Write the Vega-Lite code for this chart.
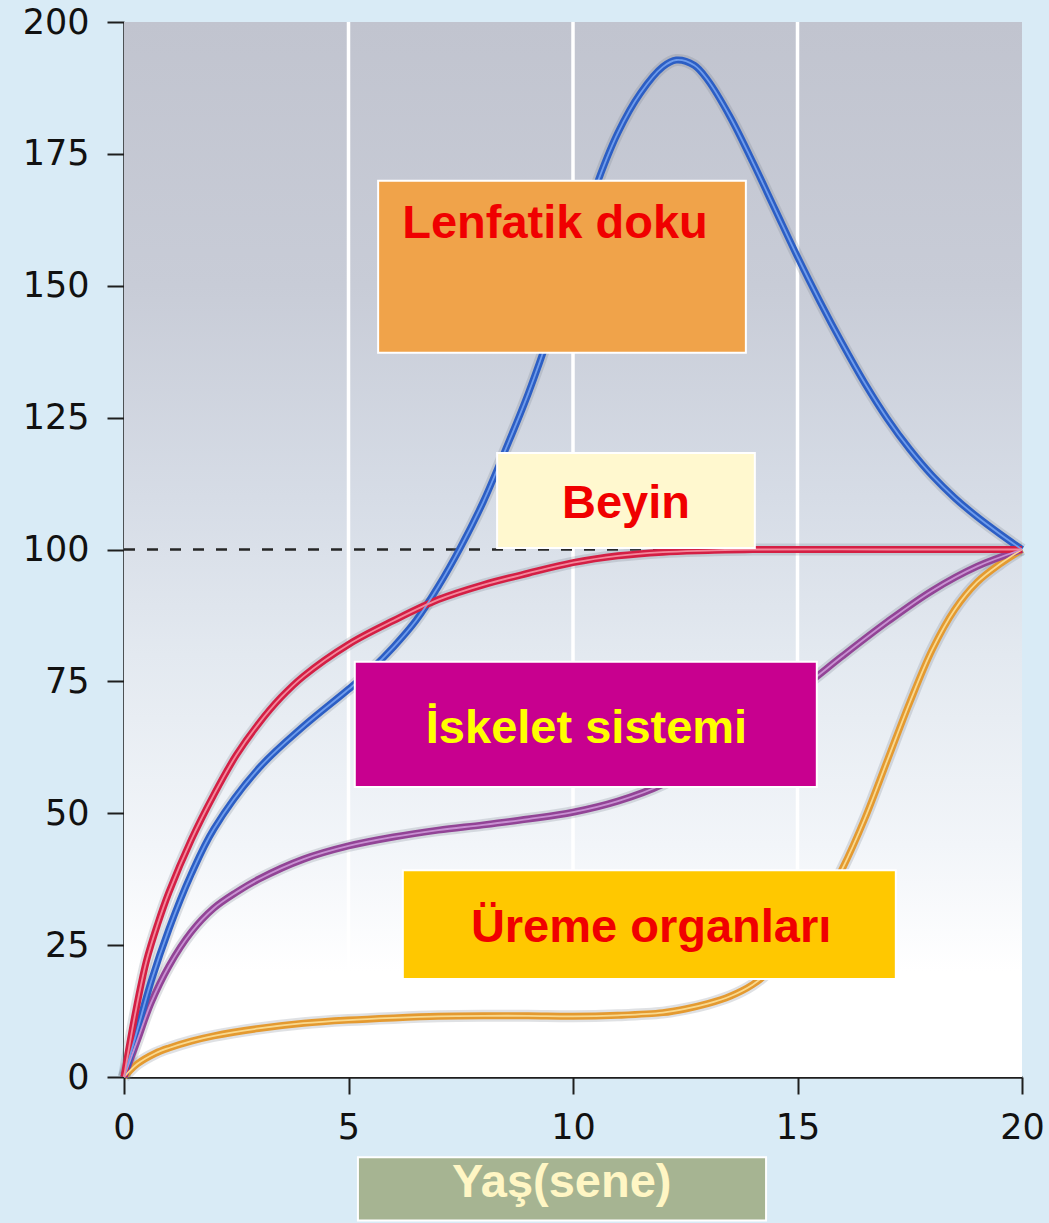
{
  "$schema": "https://vega.github.io/schema/vega-lite/v6.json",
  "width": 898,
  "height": 1055,
  "autosize": {"type": "none"},
  "padding": {"left": 124, "top": 22, "right": 27, "bottom": 146},
  "background": "#d9ebf6",
  "config": {
    "view": {"stroke": null},
    "font": "Liberation Sans",
    "axis": {
      "grid": false,
      "title": null,
      "domainColor": "#1e1e1e",
      "domainWidth": 2.5,
      "tickColor": "#1e1e1e",
      "tickWidth": 2,
      "tickSize": 17,
      "labelFont": "DejaVu Sans",
      "labelFontSize": 35,
      "labelColor": "#111111",
      "labelFlush": false,
      "labelOverlap": false
    },
    "axisX": {"labelPadding": 16},
    "axisY": {"labelPadding": 18}
  },
  "datasets": {
    "curves": [
      {"series": "Üreme organları", "age": 0, "value": 0},
      {"series": "Üreme organları", "age": 0.3, "value": 2.5},
      {"series": "Üreme organları", "age": 0.7, "value": 4.5},
      {"series": "Üreme organları", "age": 1, "value": 5.5},
      {"series": "Üreme organları", "age": 1.5, "value": 6.8},
      {"series": "Üreme organları", "age": 2, "value": 7.8},
      {"series": "Üreme organları", "age": 3, "value": 9.2},
      {"series": "Üreme organları", "age": 4, "value": 10.2},
      {"series": "Üreme organları", "age": 5, "value": 10.8},
      {"series": "Üreme organları", "age": 6, "value": 11.2},
      {"series": "Üreme organları", "age": 7, "value": 11.5},
      {"series": "Üreme organları", "age": 8, "value": 11.6},
      {"series": "Üreme organları", "age": 9, "value": 11.6},
      {"series": "Üreme organları", "age": 10, "value": 11.5},
      {"series": "Üreme organları", "age": 11, "value": 11.7},
      {"series": "Üreme organları", "age": 12, "value": 12.2},
      {"series": "Üreme organları", "age": 12.5, "value": 12.9},
      {"series": "Üreme organları", "age": 13, "value": 13.9},
      {"series": "Üreme organları", "age": 13.5, "value": 15.3},
      {"series": "Üreme organları", "age": 14, "value": 17.5},
      {"series": "Üreme organları", "age": 14.5, "value": 21},
      {"series": "Üreme organları", "age": 15, "value": 25.8},
      {"series": "Üreme organları", "age": 15.5, "value": 31.8},
      {"series": "Üreme organları", "age": 16, "value": 39.5},
      {"series": "Üreme organları", "age": 16.5, "value": 49},
      {"series": "Üreme organları", "age": 17, "value": 60},
      {"series": "Üreme organları", "age": 17.5, "value": 71},
      {"series": "Üreme organları", "age": 18, "value": 81},
      {"series": "Üreme organları", "age": 18.5, "value": 88.6},
      {"series": "Üreme organları", "age": 19, "value": 93.8},
      {"series": "Üreme organları", "age": 19.5, "value": 97.2},
      {"series": "Üreme organları", "age": 20, "value": 100},
      {"series": "İskelet sistemi", "age": 0, "value": 0},
      {"series": "İskelet sistemi", "age": 0.3, "value": 7},
      {"series": "İskelet sistemi", "age": 0.6, "value": 14},
      {"series": "İskelet sistemi", "age": 1, "value": 21},
      {"series": "İskelet sistemi", "age": 1.5, "value": 27.5},
      {"series": "İskelet sistemi", "age": 2, "value": 32},
      {"series": "İskelet sistemi", "age": 2.5, "value": 35},
      {"series": "İskelet sistemi", "age": 3, "value": 37.5},
      {"series": "İskelet sistemi", "age": 4, "value": 41.3},
      {"series": "İskelet sistemi", "age": 5, "value": 43.8},
      {"series": "İskelet sistemi", "age": 6, "value": 45.5},
      {"series": "İskelet sistemi", "age": 7, "value": 46.8},
      {"series": "İskelet sistemi", "age": 8, "value": 47.8},
      {"series": "İskelet sistemi", "age": 9, "value": 48.9},
      {"series": "İskelet sistemi", "age": 10, "value": 50.2},
      {"series": "İskelet sistemi", "age": 11, "value": 52.3},
      {"series": "İskelet sistemi", "age": 12, "value": 55.5},
      {"series": "İskelet sistemi", "age": 13, "value": 60.5},
      {"series": "İskelet sistemi", "age": 14, "value": 66.5},
      {"series": "İskelet sistemi", "age": 15, "value": 73},
      {"series": "İskelet sistemi", "age": 15.5, "value": 76.4},
      {"series": "İskelet sistemi", "age": 16, "value": 79.8},
      {"series": "İskelet sistemi", "age": 17, "value": 86.3},
      {"series": "İskelet sistemi", "age": 18, "value": 92.2},
      {"series": "İskelet sistemi", "age": 19, "value": 96.8},
      {"series": "İskelet sistemi", "age": 20, "value": 100},
      {"series": "Lenfatik doku", "age": 0, "value": 0},
      {"series": "Lenfatik doku", "age": 0.3, "value": 9},
      {"series": "Lenfatik doku", "age": 0.6, "value": 18},
      {"series": "Lenfatik doku", "age": 1, "value": 28},
      {"series": "Lenfatik doku", "age": 1.5, "value": 38.5},
      {"series": "Lenfatik doku", "age": 2, "value": 47},
      {"series": "Lenfatik doku", "age": 3, "value": 58.5},
      {"series": "Lenfatik doku", "age": 4, "value": 66.5},
      {"series": "Lenfatik doku", "age": 5, "value": 73.5},
      {"series": "Lenfatik doku", "age": 5.5, "value": 77.2},
      {"series": "Lenfatik doku", "age": 6, "value": 81.5},
      {"series": "Lenfatik doku", "age": 6.5, "value": 86.5},
      {"series": "Lenfatik doku", "age": 7, "value": 93},
      {"series": "Lenfatik doku", "age": 7.5, "value": 100.5},
      {"series": "Lenfatik doku", "age": 8, "value": 109},
      {"series": "Lenfatik doku", "age": 8.5, "value": 119},
      {"series": "Lenfatik doku", "age": 9, "value": 129.5},
      {"series": "Lenfatik doku", "age": 9.5, "value": 141.5},
      {"series": "Lenfatik doku", "age": 10, "value": 155},
      {"series": "Lenfatik doku", "age": 10.5, "value": 168.5},
      {"series": "Lenfatik doku", "age": 11, "value": 179},
      {"series": "Lenfatik doku", "age": 11.5, "value": 186.5},
      {"series": "Lenfatik doku", "age": 12, "value": 191.5},
      {"series": "Lenfatik doku", "age": 12.3, "value": 192.8},
      {"series": "Lenfatik doku", "age": 12.7, "value": 191.8},
      {"series": "Lenfatik doku", "age": 13, "value": 189},
      {"series": "Lenfatik doku", "age": 13.5, "value": 182},
      {"series": "Lenfatik doku", "age": 14, "value": 173.5},
      {"series": "Lenfatik doku", "age": 14.5, "value": 164.5},
      {"series": "Lenfatik doku", "age": 15, "value": 155.5},
      {"series": "Lenfatik doku", "age": 15.5, "value": 147},
      {"series": "Lenfatik doku", "age": 16, "value": 139},
      {"series": "Lenfatik doku", "age": 16.5, "value": 131.5},
      {"series": "Lenfatik doku", "age": 17, "value": 124.8},
      {"series": "Lenfatik doku", "age": 17.5, "value": 119},
      {"series": "Lenfatik doku", "age": 18, "value": 114},
      {"series": "Lenfatik doku", "age": 18.5, "value": 109.8},
      {"series": "Lenfatik doku", "age": 19, "value": 106.2},
      {"series": "Lenfatik doku", "age": 19.5, "value": 103},
      {"series": "Lenfatik doku", "age": 20, "value": 100},
      {"series": "Beyin", "age": 0, "value": 0},
      {"series": "Beyin", "age": 0.25, "value": 12},
      {"series": "Beyin", "age": 0.5, "value": 22},
      {"series": "Beyin", "age": 0.75, "value": 29},
      {"series": "Beyin", "age": 1, "value": 35},
      {"series": "Beyin", "age": 1.5, "value": 45},
      {"series": "Beyin", "age": 2, "value": 53.5},
      {"series": "Beyin", "age": 2.5, "value": 61},
      {"series": "Beyin", "age": 3, "value": 67},
      {"series": "Beyin", "age": 3.5, "value": 72},
      {"series": "Beyin", "age": 4, "value": 76},
      {"series": "Beyin", "age": 5, "value": 82},
      {"series": "Beyin", "age": 6, "value": 86.5},
      {"series": "Beyin", "age": 7, "value": 90.5},
      {"series": "Beyin", "age": 8, "value": 93.3},
      {"series": "Beyin", "age": 9, "value": 95.5},
      {"series": "Beyin", "age": 10, "value": 97.5},
      {"series": "Beyin", "age": 11, "value": 98.8},
      {"series": "Beyin", "age": 12, "value": 99.5},
      {"series": "Beyin", "age": 13, "value": 99.8},
      {"series": "Beyin", "age": 14, "value": 100},
      {"series": "Beyin", "age": 17, "value": 100},
      {"series": "Beyin", "age": 20, "value": 100}
    ],
    "boxes": [
      {"label": "Lenfatik doku", "x_start": 5.66, "x_end": 13.85, "y_low": 137.3, "y_high": 169.9, "tx": 9.6, "ty": 159},
      {"label": "Beyin", "x_start": 8.31, "x_end": 14.05, "y_low": 100.3, "y_high": 118.3, "tx": 11.18, "ty": 106},
      {"label": "İskelet sistemi", "x_start": 5.14, "x_end": 15.43, "y_low": 55.0, "y_high": 78.7, "tx": 10.3, "ty": 63.3},
      {"label": "Üreme organları", "x_start": 6.21, "x_end": 17.19, "y_low": 18.6, "y_high": 39.2, "tx": 11.74, "ty": 25.6},
      {"label": "Yaş(sene)", "x_start": 5.21, "x_end": 14.3, "y_low": -27.2, "y_high": -15.2, "tx": 9.75, "ty": -22.7}
    ],
    "grid": [{"age": 5}, {"age": 10}, {"age": 15}]
  },
  "layer": [
    {
      "data": {"values": [{}]},
      "mark": {
        "type": "rect",
        "fill": {
          "gradient": "linear", "x1": 0, "y1": 0, "x2": 0, "y2": 1,
          "stops": [
            {"offset": 0, "color": "#c1c4cf"},
            {"offset": 0.25, "color": "#c8ccd7"},
            {"offset": 0.45, "color": "#d6dce6"},
            {"offset": 0.6, "color": "#e3e9f0"},
            {"offset": 0.78, "color": "#f2f5f9"},
            {"offset": 0.9, "color": "#ffffff"},
            {"offset": 1, "color": "#ffffff"}
          ]
        }
      },
      "encoding": {
        "x": {"datum": 0, "type": "quantitative", "scale": {"domain": [0, 20], "nice": false}, "axis": {"values": [0, 5, 10, 15, 20]}},
        "x2": {"datum": 20},
        "y": {"datum": 0, "type": "quantitative", "scale": {"domain": [0, 200], "nice": false}, "axis": {"values": [0, 25, 50, 75, 100, 125, 150, 175, 200]}},
        "y2": {"datum": 200}
      }
    },
    {
      "data": {"name": "grid"},
      "mark": {"type": "rule", "color": "#ffffff", "strokeWidth": 3.5},
      "encoding": {
        "x": {"field": "age", "type": "quantitative", "scale": {"domain": [0, 20], "nice": false}},
        "y": {"datum": 0, "type": "quantitative", "scale": {"domain": [0, 200], "nice": false}},
        "y2": {"datum": 200}
      }
    },
    {
      "data": {"values": [{}]},
      "mark": {"type": "rule", "color": "#262626", "strokeWidth": 2.5, "strokeDash": [11, 12]},
      "encoding": {
        "x": {"datum": 0, "type": "quantitative", "scale": {"domain": [0, 20], "nice": false}},
        "x2": {"datum": 12.3},
        "y": {"datum": 100, "type": "quantitative", "scale": {"domain": [0, 200], "nice": false}}
      }
    },
    {
      "data": {"name": "curves"},
      "mark": {"type": "line", "interpolate": "catmull-rom", "strokeWidth": 12, "color": "#6f7585", "opacity": 0.22},
      "encoding": {
        "x": {"field": "age", "type": "quantitative", "scale": {"domain": [0, 20], "nice": false}},
        "y": {"field": "value", "type": "quantitative", "scale": {"domain": [0, 200], "nice": false}},
        "detail": {"field": "series"}
      }
    },
    {
      "data": {"name": "curves"},
      "mark": {"type": "line", "interpolate": "catmull-rom", "strokeWidth": 7},
      "encoding": {
        "x": {"field": "age", "type": "quantitative", "scale": {"domain": [0, 20], "nice": false}},
        "y": {"field": "value", "type": "quantitative", "scale": {"domain": [0, 200], "nice": false}},
        "color": {
          "field": "series", "type": "nominal", "legend": null, "sort": null,
          "scale": {"domain": ["Üreme organları", "İskelet sistemi", "Lenfatik doku", "Beyin"], "range": ["#e49a30", "#924496", "#2c5ec4", "#d41f44"]}
        }
      }
    },
    {
      "data": {"name": "curves"},
      "mark": {"type": "line", "interpolate": "catmull-rom", "strokeWidth": 1.8},
      "encoding": {
        "x": {"field": "age", "type": "quantitative", "scale": {"domain": [0, 20], "nice": false}},
        "y": {"field": "value", "type": "quantitative", "scale": {"domain": [0, 200], "nice": false}},
        "stroke": {
          "field": "series", "type": "nominal", "legend": null, "sort": null,
          "scale": {"domain": ["Üreme organları", "İskelet sistemi", "Lenfatik doku", "Beyin"], "range": ["#f9d98e", "#c890d2", "#6f9cec", "#f3889c"]}
        }
      }
    },
    {
      "data": {"name": "boxes"},
      "mark": {"type": "rect", "stroke": "#ffffff", "strokeWidth": 2},
      "encoding": {
        "x": {"field": "x_start", "type": "quantitative", "scale": {"domain": [0, 20], "nice": false}},
        "x2": {"field": "x_end"},
        "y": {"field": "y_low", "type": "quantitative", "scale": {"domain": [0, 200], "nice": false}},
        "y2": {"field": "y_high"},
        "fill": {
          "field": "label", "type": "nominal", "legend": null,
          "scale": {"domain": ["Lenfatik doku", "Beyin", "İskelet sistemi", "Üreme organları", "Yaş(sene)"], "range": ["#f0a34a", "#fff8cf", "#c8008f", "#ffc800", "#a6b492"]}
        }
      }
    },
    {
      "data": {"name": "boxes"},
      "mark": {"type": "text", "font": "Liberation Sans", "fontWeight": "bold", "fontSize": 47, "align": "center", "baseline": "alphabetic"},
      "encoding": {
        "x": {"field": "tx", "type": "quantitative", "scale": {"domain": [0, 20], "nice": false}},
        "y": {"field": "ty", "type": "quantitative", "scale": {"domain": [0, 200], "nice": false}},
        "text": {"field": "label"},
        "color": {
          "field": "label", "type": "nominal", "legend": null,
          "scale": {"domain": ["Lenfatik doku", "Beyin", "İskelet sistemi", "Üreme organları", "Yaş(sene)"], "range": ["#f00000", "#f00000", "#ffff00", "#f00000", "#fff6c4"]}
        }
      }
    }
  ],
  "resolve": {"scale": {"color": "independent", "stroke": "independent", "fill": "independent"}}
}
